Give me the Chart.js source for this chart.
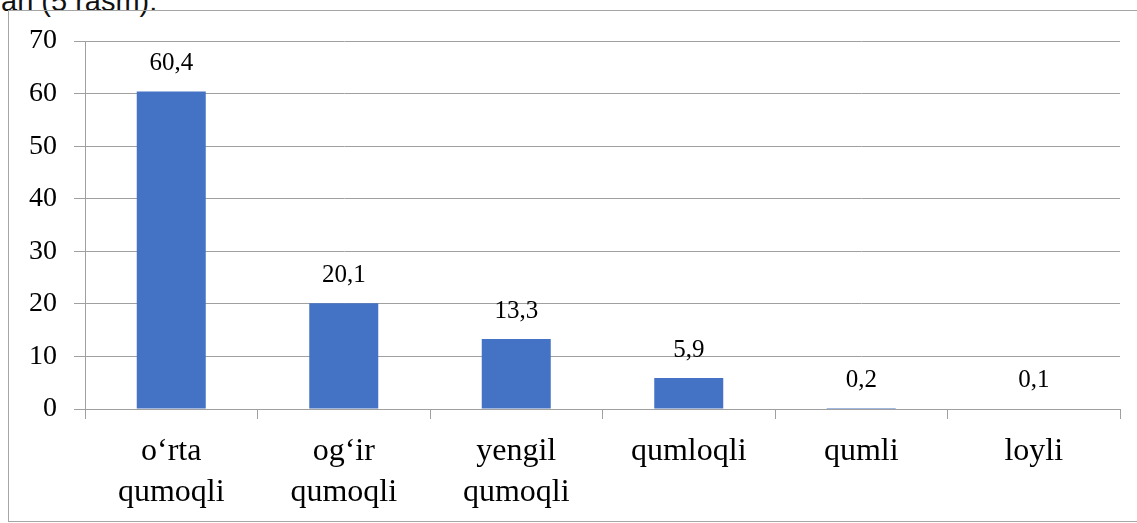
<!DOCTYPE html>
<html>
<head>
<meta charset="utf-8">
<script src="https://cdn.jsdelivr.net/npm/chart.js@4"></script>
<style>
  html, body { margin: 0; padding: 0; background: #fff; }
  #page { position: relative; width: 1137px; height: 523px; overflow: hidden; }
  #caption {
    position: absolute; left: 1px; top: -13px;
    font: 29px "Liberation Sans", Arial, sans-serif; line-height: 28px;
    color: #111; white-space: nowrap;
  }
  #frame {
    position: absolute; left: 8px; top: 10px; width: 1200px; height: 510px;
    border: 1px solid #a6a6a6;
  }
  #wrap { position: absolute; left: 0; top: 0; width: 1137px; height: 523px; }
</style>
</head>
<body>
<div id="page">
  <div id="caption">an (5 rasm).</div>
  <div id="frame"></div>
  <div id="wrap"><canvas id="chart"></canvas></div>
</div>
<script>
// Soil texture shares, %
const categories = [
  ['o‘rta', 'qumoqli'],
  ['og‘ir', 'qumoqli'],
  ['yengil', 'qumoqli'],
  'qumloqli',
  'qumli',
  'loyli'
];
const values = [60.4, 20.1, 13.3, 5.9, 0.2, 0.1];
const yTicks = [0, 10, 20, 30, 40, 50, 60, 70];

const gridGray = '#a0a0a0';
const serif = "'Liberation Serif', 'Times New Roman', serif";

// value labels above bars, with a decimal comma
const valueLabels = {
  id: 'valueLabels',
  afterDatasetsDraw(chart) {
    const ctx = chart.ctx;
    const meta = chart.getDatasetMeta(0);
    ctx.save();
    ctx.font = '25px ' + serif;
    ctx.fillStyle = '#000';
    ctx.textAlign = 'center';
    ctx.textBaseline = 'alphabetic';
    meta.data.forEach((bar, i) => {
      ctx.fillText(values[i].toFixed(1).replace('.', ','), bar.x, bar.y - 21);
    });
    ctx.restore();
  }
};

new Chart(document.getElementById('chart'), {
  type: 'bar',
  data: {
    labels: categories,
    datasets: [{
      data: values,
      backgroundColor: '#4472C4',
      barPercentage: 0.4,
      categoryPercentage: 1
    }]
  },
  options: {
    responsive: true,
    maintainAspectRatio: false,
    animation: false,
    layout: { padding: { top: 41, right: 17, bottom: 0, left: 0 } },
    plugins: {
      legend: { display: false },
      tooltip: { enabled: false }
    },
    scales: {
      x: {
        offset: true,
        grid: {
          display: true,
          drawOnChartArea: false,
          drawTicks: true,
          tickLength: 10,
          offset: true,
          color: gridGray
        },
        border: { display: true, color: gridGray },
        ticks: {
          padding: 12,
          color: '#000',
          maxRotation: 0,
          autoSkip: false,
          font: { family: serif, size: 32, lineHeight: 41 / 32 }
        },
        afterFit: scale => { scale.height = 114; }
      },
      y: {
        min: 0,
        max: 70,
        afterBuildTicks: scale => { scale.ticks = yTicks.map(v => ({ value: v })); },
        grid: { color: gridGray, tickLength: 11 },
        border: { display: true, color: gridGray },
        ticks: {
          padding: 17,
          color: '#000',
          font: { family: serif, size: 28 }
        },
        afterFit: scale => { scale.width = 85; }
      }
    }
  },
  plugins: [valueLabels]
});
</script>
</body>
</html>
